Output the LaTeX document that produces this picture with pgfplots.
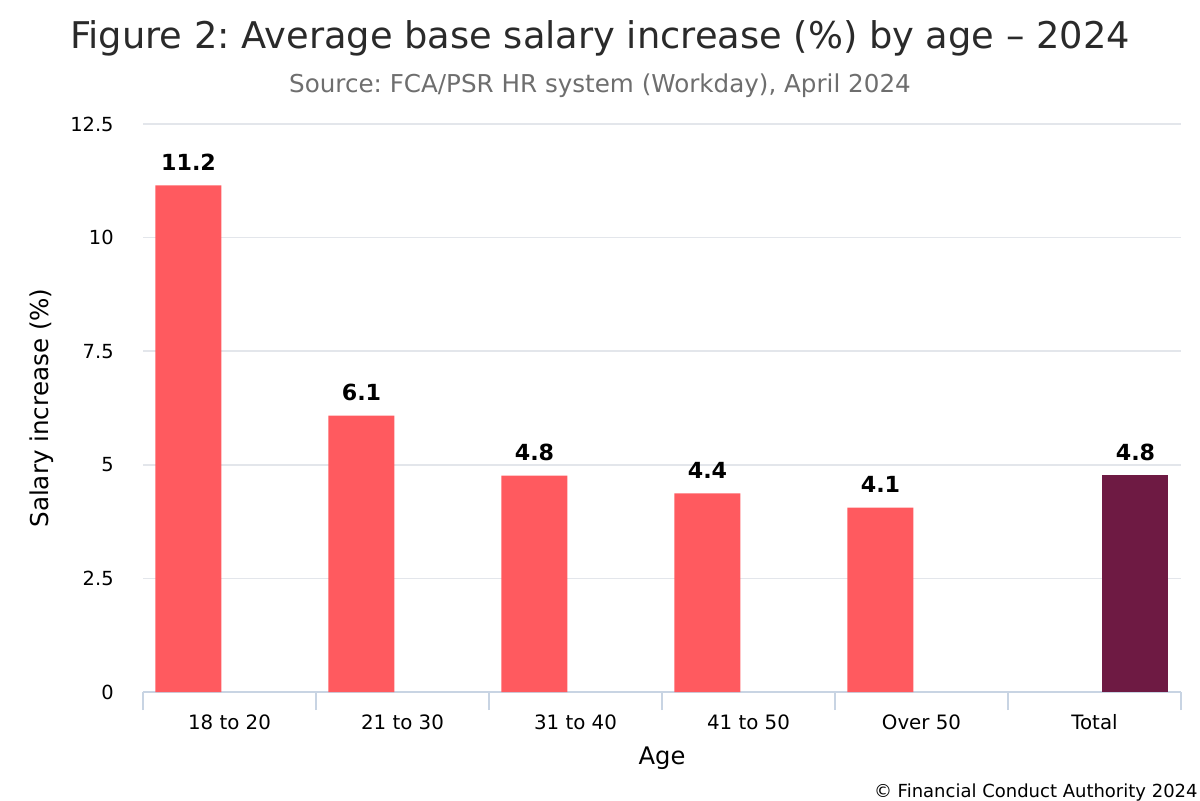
\documentclass[border=0pt]{standalone}
\usepackage{pgfplots}
\pgfplotsset{compat=1.18}
\usepackage{pgfplotstable}
\usepackage{fontspec}
\setmainfont{DejaVu Sans}
\frenchspacing
\definecolor{barred}{HTML}{FF5A5F}
\definecolor{bardark}{HTML}{6E1A43}
\definecolor{axisblue}{HTML}{C8D4E3}
\definecolor{gridgray}{HTML}{E3E6EB}
\definecolor{titlegray}{HTML}{2A2A2A}
\definecolor{subgray}{HTML}{6E6E6E}

\pgfplotstableread{
x y label
0 11.15 11.2
1 6.08 6.1
2 4.76 4.8
3 4.37 4.4
4 4.06 4.1
}\agedata
\pgfplotstableread{
x y label
5 4.77 4.8
}\totaldata

\begin{document}
\begin{tikzpicture}[x=1pt,y=1pt]
\useasboundingbox (0,0) rectangle (600,400);
\begin{axis}[
  at={(71.5pt,54pt)}, anchor=south west,
  scale only axis, width=519pt, height=284pt,
  xmin=-0.5, xmax=5.5, ymin=0, ymax=12.5,
  enlargelimits=false, clip=false,
  axis x line*=bottom, axis y line*=left,
  x axis line style={-, draw=axisblue, line width=1pt},
  y axis line style={draw=none},
  xtick={0,...,5},
  xticklabels={18 to 20, 21 to 30, 31 to 40, 41 to 50, Over 50, Total},
  extra x ticks={-0.5,0.5,1.5,2.5,3.5,4.5,5.5},
  extra x tick labels={},
  extra x tick style={tick style={draw=axisblue, line width=0.8pt}, major tick length=9pt, tick align=outside, grid=none},
  tick align=outside,
  major tick length=0pt,
  ytick={0,2.5,5,7.5,10,12.5},
  yticklabels={0,2.5,5,7.5,10,12.5},
  ymajorgrids, grid style={draw=gridgray, line width=0.8pt},
  ytick style={draw=none},
  xticklabel style={font=\fontsize{9.9}{11}\selectfont, inner sep=0pt, anchor=north, yshift=-11pt},
  yticklabel style={font=\fontsize{9.7}{11}\selectfont, inner sep=0pt, anchor=east, xshift=-14.5pt},
  /pgf/number format/assume math mode=true,
  ybar, bar width=33pt,
  nodes near coords,
  point meta=explicit symbolic,
  every node near coord/.append style={font=\fontsize{11.1}{13}\bfseries\selectfont, text=black, anchor=base, inner sep=0pt, yshift=7.5pt},
]
\addplot[fill=barred, draw=none, bar shift=-20.5pt] table[x=x, y=y, meta=label] {\agedata};
\addplot[fill=bardark, draw=none, bar shift=20.5pt] table[x=x, y=y, meta=label] {\totaldata};
\end{axis}
\node[text=titlegray, font=\fontsize{18.4}{20}\selectfont] at (300,381) {Figure 2: Average base salary increase (\%) by age – 2024};
\node[text=subgray, font=\fontsize{12.3}{14}\selectfont] at (300,357) {Source: FCA/PSR HR system (Workday), April 2024};
\node[text=black, font=\fontsize{12.1}{14}\selectfont] at (331,21) {Age};
\node[text=black, font=\fontsize{12.3}{14}\selectfont, rotate=90] at (21,196) {Salary increase (\%)};
\node[text=black, font=\fontsize{9}{10}\selectfont, anchor=base east, inner sep=0pt] at (599,1.5) {© Financial Conduct Authority 2024};
\end{tikzpicture}
\end{document}
